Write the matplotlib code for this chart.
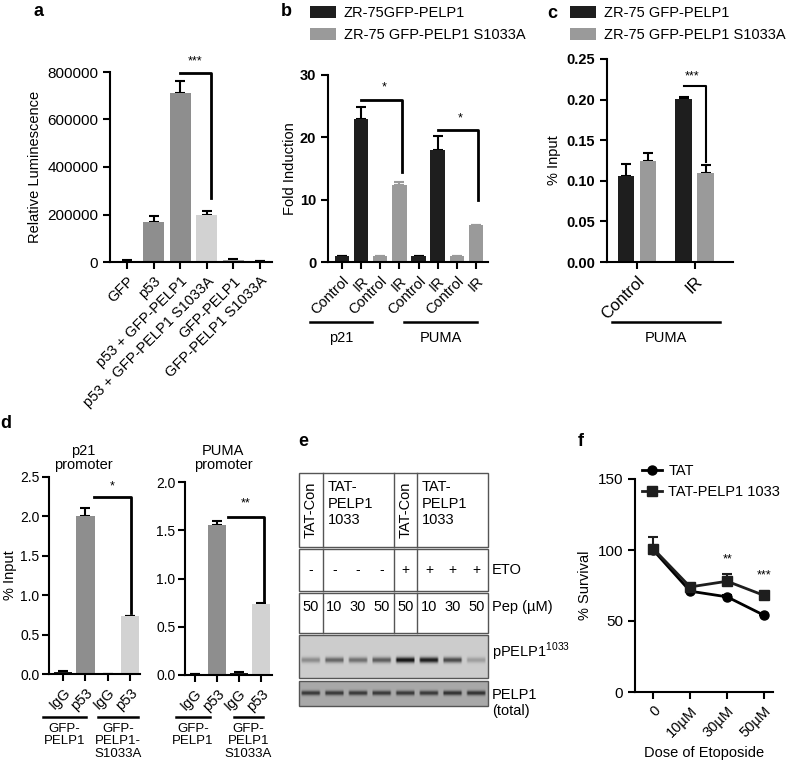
import numpy as np
import matplotlib.pyplot as plt
from matplotlib.patches import Rectangle

plt.rcParams['font.family'] = ['Liberation Sans', 'DejaVu Sans']
plt.rcParams['mathtext.fontset'] = 'custom'
plt.rcParams['mathtext.rm'] = 'Liberation Sans'
plt.rcParams['axes.linewidth'] = 1.5

# ---- data ----
# a: luciferase
a_labels = ["GFP", "p53", "p53 + GFP-PELP1", "p53 + GFP-PELP1 S1033A", "GFP-PELP1", "GFP-PELP1 S1033A"]
a_values = [5000, 170000, 710000, 200000, 8000, 3000]
a_err = [3000, 25000, 50000, 15000, 3000, 1500]
a_colors = ["#1e1e1e", "#8e8e8e", "#8e8e8e", "#d2d2d2", "#a4a4a4", "#444444"]

# b: fold induction (Control, IR) x (p21, PUMA)
b_ticks = ["Control", "IR", "Control", "IR", "Control", "IR", "Control", "IR"]
b_wt = [1.0, 23.0, 1.0, 18.0]
b_wt_err = [0, 1.8, 0, 2.2]
b_mut = [1.0, 12.4, 1.0, 6.0]
b_mut_err = [0, 0.4, 0, 0]
b_legend = ["ZR-75GFP-PELP1", "ZR-75 GFP-PELP1 S1033A"]

# c: ChIP PUMA
c_groups = ["Control", "IR"]
c_wt = [0.106, 0.201]
c_wt_err = [0.015, 0.002]
c_mut = [0.124, 0.110]
c_mut_err = [0.010, 0.010]
c_legend = ["ZR-75 GFP-PELP1", "ZR-75 GFP-PELP1 S1033A"]

# d: ChIP promoters
d_ticks = ["IgG", "p53", "IgG", "p53"]
d_colors = ["#1e1e1e", "#8e8e8e", "#1e1e1e", "#d2d2d2"]
d1_values = [0.02, 2.0, 0.005, 0.73]
d1_err = [0.015, 0.11, 0, 0.01]
d2_values = [0.01, 1.55, 0.02, 0.74]
d2_err = [0.005, 0.05, 0.01, 0.01]

# e: western blot
e_eto = ["-", "-", "-", "-", "+", "+", "+", "+"]
e_pep = ["50", "10", "30", "50", "50", "10", "30", "50"]
e_pband = [0.35, 0.55, 0.5, 0.6, 1.0, 0.95, 0.7, 0.25]
e_tband = [0.75, 0.75, 0.75, 0.75, 0.75, 0.75, 0.8, 0.8]

# f: survival
f_doses = ["0", "10\u00b5M", "30\u00b5M", "50\u00b5M"]
f_tat = [100, 71, 67, 54]
f_tat_err = [0, 1, 1, 1]
f_pelp = [101, 74, 78, 68]
f_pelp_err = [8, 2, 5, 1.5]

W, H = 790, 772
fig = plt.figure(figsize=(W / 100, H / 100), dpi=100)


def add_ax(left, top, right, bottom):
    return fig.add_axes([left / W, 1 - bottom / H, (right - left) / W, (bottom - top) / H])


def prism(ax, bold=False, size=10.5):
    for s in ['top', 'right']:
        ax.spines[s].set_visible(False)
    ax.tick_params(direction='out', length=5, width=1.5)
    ax.tick_params(axis='y', labelsize=size)
    if bold:
        for t in ax.get_yticklabels():
            t.set_fontweight('bold')


def upper_err(ax, x, y, err, color='black'):
    ax.errorbar(x, y, yerr=[np.zeros(len(err)), err], fmt='none', ecolor=color,
                elinewidth=1.5, capsize=3.5, capthick=1.5, zorder=1)


def bracket(ax, x1, x2, top, bottom, label, sx, sy, lw=2):
    ax.plot([x1, x2, x2], [top, top, bottom], color='black', lw=lw, clip_on=False)
    ax.text(sx, sy, label, ha='center', va='center', fontsize=9)


def rot_labels(ax, labels, size=10.5):
    ax.set_xticklabels(labels, rotation=45, ha='right', rotation_mode='anchor', fontsize=size)


# ---- a ----
ax = add_ax(110, 72, 272, 262)
xa = np.arange(len(a_values))
ax.bar(xa, a_values, width=0.78, color=a_colors, zorder=2)
upper_err(ax, xa, a_values, a_err)
ax.set_xlim(-0.64, 5.45)
ax.set_ylim(0, 800000)
ax.set_yticks(range(0, 800001, 200000))
ax.set_xticks(xa)
rot_labels(ax, a_labels)
ax.set_ylabel("Relative Luminescence", fontsize=10.5)
prism(ax, size=11)
bracket(ax, 2, 3.15, 795000, 270000, "***", 2.56, 845000)

# ---- b ----
ax = add_ax(328, 75, 488, 262)
xb = np.arange(8)
bw = ax.bar(xb[[0, 1, 4, 5]], b_wt, width=0.75, color="#1e1e1e", label=b_legend[0], zorder=2)
bm = ax.bar(xb[[2, 3, 6, 7]], b_mut, width=0.75, color="#9a9a9a", label=b_legend[1], zorder=2)
upper_err(ax, xb[[0, 1, 4, 5]], b_wt, b_wt_err)
upper_err(ax, xb[[2, 3, 6, 7]], b_mut, b_mut_err, color="#9a9a9a")
ax.set_xlim(-0.73, 7.63)
ax.set_ylim(0, 30)
ax.set_yticks([0, 10, 20, 30])
ax.set_xticks(xb)
rot_labels(ax, b_ticks)
ax.set_ylabel("Fold Induction", fontsize=10.5, labelpad=2)
prism(ax, bold=True)
bracket(ax, 1, 3.12, 26, 14.5, "*", 2.2, 28)
bracket(ax, 5.03, 7.12, 21.2, 9.9, "*", 6.16, 23)
ax.legend(handles=[bw, bm], loc='upper left', bbox_to_anchor=(310 / W, 1 - 6 / H),
          bbox_transform=fig.transFigure, frameon=False, fontsize=10.5, handlelength=1.8,
          handleheight=0.8, handletextpad=0.5, labelspacing=0.55, borderaxespad=0, borderpad=0)

# ---- c ----
ax = add_ax(607, 59, 733, 262)
xc = np.arange(len(c_groups))
cw = ax.bar(xc - 0.19, c_wt, width=0.29, color="#1e1e1e", zorder=2)
cm = ax.bar(xc + 0.19, c_mut, width=0.29, color="#9a9a9a", zorder=2)
upper_err(ax, xc - 0.19, c_wt, c_wt_err)
upper_err(ax, xc + 0.19, c_mut, c_mut_err)
ax.set_xlim(-0.52, 1.66)
ax.set_ylim(0, 0.25)
ax.set_yticks(np.arange(0, 0.251, 0.05))
ax.set_yticklabels([f"{v:.2f}" for v in np.arange(0, 0.251, 0.05)])
ax.set_xticks(xc)
rot_labels(ax, c_groups, size=12)
ax.set_ylabel("% Input", fontsize=10.5)
prism(ax, bold=True)
bracket(ax, 0.81, 1.19, 0.217, 0.1235, "***", 0.96, 0.229, lw=1.5)
ax.legend(handles=[cw, cm], labels=c_legend, loc='upper left', bbox_to_anchor=(570 / W, 1 - 6 / H),
          bbox_transform=fig.transFigure, frameon=False, fontsize=10.5, handlelength=1.8,
          handleheight=0.8, handletextpad=0.5, labelspacing=0.55, borderaxespad=0, borderpad=0)

# ---- d ----
xd = np.arange(4)
for rect, vals, errs, top, xl, br in [
        ((49, 477, 140, 674), d1_values, d1_err, 2.5, (-0.63, 3.45), (1.4, 3.03, 2.24, 0.78, "*", 2.18, 2.38)),
        ((185, 482, 272, 675), d2_values, d2_err, 2.0, (-0.45, 3.5), (1.5, 3.14, 1.64, 0.76, "**", 2.3, 1.78))]:
    ax = add_ax(*rect)
    ax.bar(xd, vals, width=0.82, color=d_colors, zorder=2)
    upper_err(ax, xd, vals, errs)
    ax.set_xlim(*xl)
    ax.set_ylim(0, top)
    ax.set_yticks(np.arange(0, top + 0.01, 0.5))
    ax.set_yticklabels([f"{v:.1f}" for v in np.arange(0, top + 0.01, 0.5)])
    ax.set_xticks(xd)
    rot_labels(ax, d_ticks, size=10.5)
    prism(ax, size=10)
    ax.tick_params(axis='y', pad=2)
    bracket(ax, *br)
    if top == 2.5:
        ax.set_ylabel("% Input", fontsize=10.5)
        ax.yaxis.set_label_coords(-0.35, 0.5)

# ---- f ----
ax = add_ax(635, 479, 773, 692)
xf = np.arange(len(f_doses))
ax.errorbar(xf, f_tat, yerr=[np.zeros(4), f_tat_err], color='black', marker='o', ms=6.5,
            lw=2, capsize=3.5, capthick=1.5, elinewidth=1.5, label="TAT", clip_on=False)
ax.errorbar(xf, f_pelp, yerr=[np.zeros(4), f_pelp_err], color='#1e1e1e', marker='s', ms=6.5,
            lw=2, capsize=3.5, capthick=1.5, elinewidth=1.5, label="TAT-PELP1 1033", clip_on=False)
ax.set_xlim(-0.49, 3.24)
ax.set_ylim(0, 150)
ax.set_yticks([0, 50, 100, 150])
ax.set_xticks(xf)
rot_labels(ax, f_doses, size=10.5)
ax.set_xlabel("Dose of Etoposide", fontsize=10.5)
ax.set_ylabel("% Survival", fontsize=10.5)
prism(ax, size=11)
ax.text(2, 93.7, "**", ha='center', va='center', fontsize=9)
ax.text(3, 82.4, "***", ha='center', va='center', fontsize=9)
h, l = ax.get_legend_handles_labels()
ax.legend([x[0] for x in h], l, loc='upper left', bbox_to_anchor=(642 / W, 1 - 464 / H),
          bbox_transform=fig.transFigure, frameon=False, fontsize=10.5, handlelength=1.4,
          handletextpad=0.4, labelspacing=0.5, borderaxespad=0, borderpad=0)

# ---- overlay: panel letters, group lines, blot panel ----
ov = fig.add_axes([0, 0, 1, 1])
ov.set_xlim(0, W)
ov.set_ylim(H, 0)
ov.axis('off')

for letter, px, py in [("a", 38, 12), ("b", 286, 12), ("c", 552, 13),
                       ("d", 6, 423), ("e", 303, 442), ("f", 581, 442)]:
    ov.text(px, py, letter, fontsize=13, fontweight='bold', ha='center', va='center')

# group lines b, c
for x1, x2, text in [(310, 372, "p21"), (404, 477, "PUMA"), (612, 720, "PUMA")]:
    ov.plot([x1, x2], [322, 322], color='black', lw=1.8)
    ov.text((x1 + x2) / 2, 338, text, fontsize=10.5, ha='center', va='center')

# group lines d
for x1, x2, text in [(43, 86, "GFP-\nPELP1"), (98, 138, "GFP-\nPELP1-\nS1033A"),
                     (176, 210, "GFP-\nPELP1"), (234, 263, "GFP-\nPELP1\nS1033A")]:
    ov.plot([x1, x2], [717, 717], color='black', lw=1.8)
    ov.text((x1 + x2) / 2, 723, text, fontsize=9.5, ha='center', va='top', linespacing=1.05)

ov.text(83, 458, "p21\npromoter", fontsize=10.5, ha='center', va='center', linespacing=1.0)
ov.text(223, 458, "PUMA\npromoter", fontsize=10.5, ha='center', va='center', linespacing=1.0)

# e: table
x0, x1 = 299, 488
lane_w = (x1 - x0) / len(e_pep)
lane_c = x0 + lane_w * (np.arange(len(e_pep)) + 0.5)
edge = "#555555"
for top, bot in [(473, 547), (549, 591), (593, 633)]:
    ov.add_patch(Rectangle((x0, top), x1 - x0, bot - top, fill=False, ec=edge, lw=1))
    for k in [1, 4, 5]:
        ov.plot([x0 + k * lane_w] * 2, [top, bot], color=edge, lw=1)

for k in [0, 4]:
    ov.text(lane_c[k], 510, "TAT-Con", rotation=90, fontsize=10.5, ha='center', va='center')
    ov.text(x0 + (k + 1) * lane_w + 5, 480, "TAT-\nPELP1\n1033", fontsize=10.5,
            ha='left', va='top', linespacing=1.25)
for k in range(len(e_pep)):
    ov.text(lane_c[k], 570, e_eto[k], fontsize=10, ha='center', va='center')
    ov.text(lane_c[k], 607, e_pep[k], fontsize=10.5, ha='center', va='center')
ov.text(492, 570, "ETO", fontsize=10.5, ha='left', va='center')
ov.text(492, 607, "Pep (\u00b5M)", fontsize=10.5, ha='left', va='center')


def blot(levels, bg, top, bot, band_y, band_h):
    rows = int(bot - top)
    cols = int(x1 - x0)
    yy = np.arange(rows)[:, None] + 0.5
    xx = np.arange(cols)[None, :] + 0.5
    lane = np.clip((xx // lane_w).astype(int), 0, len(levels) - 1)
    dx = np.abs(xx - (lane + 0.5) * lane_w)
    win = np.clip((lane_w * 0.43 - dx) / 2.0, 0, 1)
    lev = np.array(levels)[lane]
    dark = lev * win * np.exp(-((yy - (band_y - top)) / band_h) ** 2)
    img = bg - dark * (bg - 0.08)
    ov.imshow(img, cmap='gray', vmin=0, vmax=1, extent=(x0, x1, bot, top),
              aspect='auto', interpolation='bilinear')
    ov.add_patch(Rectangle((x0, top), x1 - x0, bot - top, fill=False, ec=edge, lw=1))


blot(e_pband, 0.80, 635, 678, 660, 2.8)
blot(e_tband, 0.66, 681, 706, 693, 2.4)
ov.set_xlim(0, W)
ov.set_ylim(H, 0)
ov.text(492, 652, r"pPELP1$^{\mathrm{1033}}$", fontsize=10.5, ha='left', va='center')
ov.text(492, 703, "PELP1\n(total)", fontsize=10.5, ha='left', va='center', linespacing=1.1)

fig.savefig("out.png", dpi=100)
